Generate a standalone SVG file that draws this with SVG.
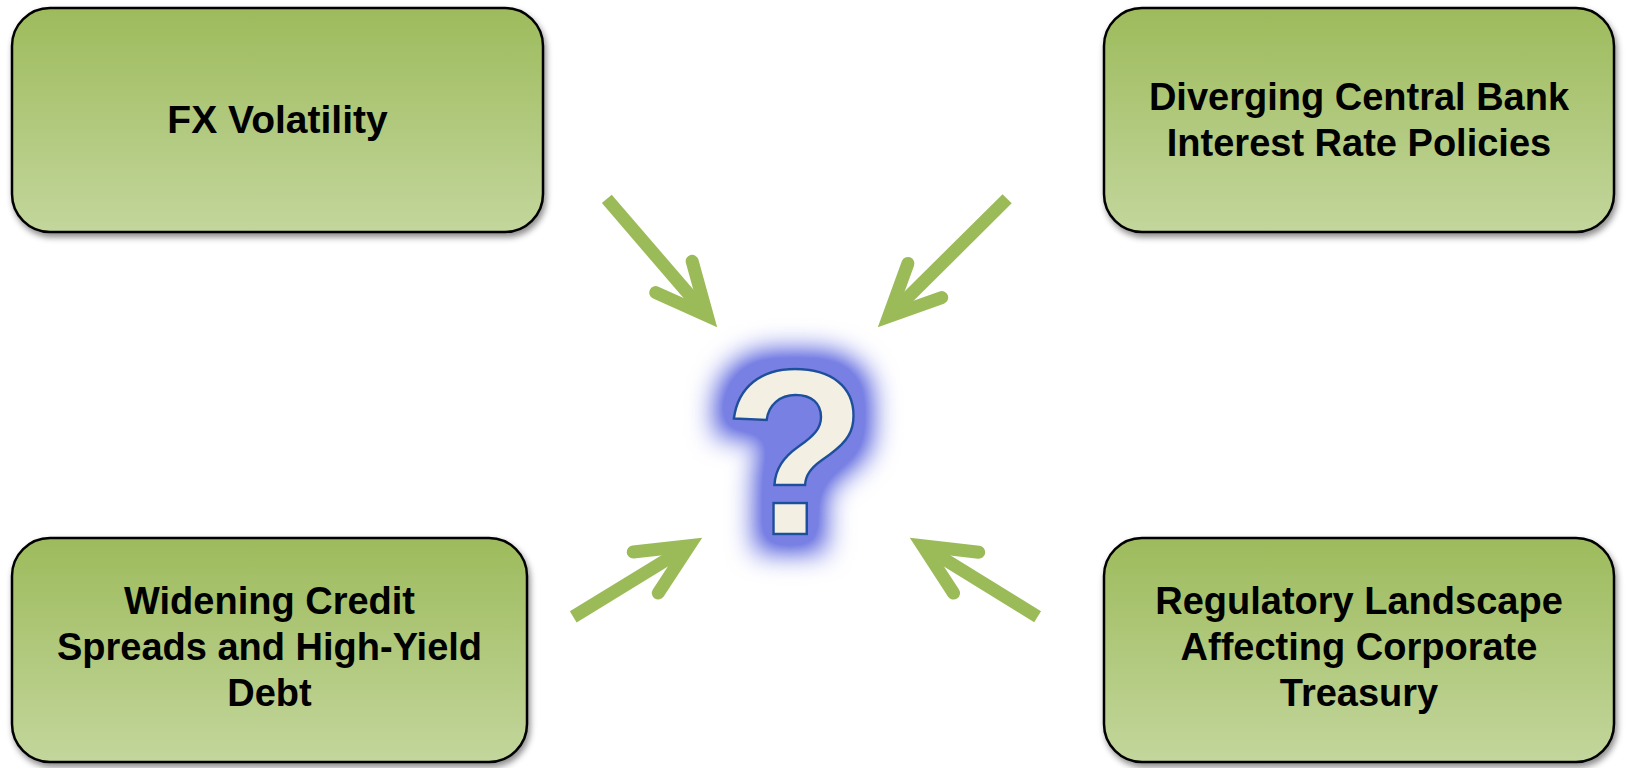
<svg xmlns="http://www.w3.org/2000/svg" width="1627" height="768" viewBox="0 0 1627 768">
<style>
.box{fill:url(#g);stroke:#000;stroke-width:2.5;filter:url(#sh)}
.lbl{font-family:"Liberation Sans",Arial,sans-serif;font-weight:bold;font-size:38px;fill:#000;text-anchor:middle}
.shaft{fill:none;stroke:#9BBB59;stroke-width:13;stroke-linecap:butt}
.head{fill:none;stroke:#9BBB59;stroke-width:13;stroke-linecap:round;stroke-linejoin:miter;stroke-miterlimit:10}
.q{font-family:"Liberation Sans",Arial,sans-serif;font-weight:bold;font-size:236px;fill:#F3F0E3;stroke:#1B4F9C;stroke-width:2.5;text-anchor:middle;filter:url(#glow)}
</style>
<defs>
<linearGradient id="g" x1="0" y1="0" x2="0" y2="1">
<stop offset="0" stop-color="#9DBB5C"/>
<stop offset="1" stop-color="#C3D69C"/>
</linearGradient>
<filter id="sh" x="-5%" y="-5%" width="115%" height="120%">
<feDropShadow dx="2" dy="4" stdDeviation="3" flood-color="#000" flood-opacity="0.45"/>
</filter>
<filter id="glow" x="-80%" y="-50%" width="260%" height="200%">
<feMorphology in="SourceAlpha" operator="dilate" radius="16" result="d"/>
<feGaussianBlur in="d" stdDeviation="14" result="b"/>
<feComponentTransfer in="b" result="b2"><feFuncA type="linear" slope="1.5" intercept="0"/></feComponentTransfer>
<feFlood flood-color="#7880E4" flood-opacity="1"/>
<feComposite in2="b2" operator="in" result="gl"/>
<feMerge><feMergeNode in="gl"/><feMergeNode in="SourceGraphic"/></feMerge>
</filter>
</defs>
<rect width="1627" height="768" fill="#fff"/>
<g id="connectors">
<g transform="translate(717,327) rotate(49.3)"><path class="shaft" d="M -169,0 L -20,0"/><path class="head" d="M -66,-24 L -15,0 L -66,24"/></g>
<g transform="translate(878,327) rotate(135.2)"><path class="shaft" d="M -182,0 L -20,0"/><path class="head" d="M -66,-24 L -15,0 L -66,24"/></g>
<g transform="translate(702,538) rotate(-31.5)"><path class="shaft" d="M -151,0 L -20,0"/><path class="head" d="M -66,-24 L -15,0 L -66,24"/></g>
<g transform="translate(910,538) rotate(211.7)"><path class="shaft" d="M -150,0 L -20,0"/><path class="head" d="M -66,-24 L -15,0 L -66,24"/></g>
</g>
<g id="question">
<text class="q" x="795" y="534">?</text>
</g>
<g id="n1">
<rect class="box" x="12" y="8" width="531" height="224" rx="38"/>
<text class="lbl" x="277.5" y="133" style="font-size:39px">FX Volatility</text>
</g>
<g id="n2">
<rect class="box" x="1104" y="8" width="510" height="224" rx="38"/>
<text class="lbl" x="1359" y="110">Diverging Central Bank</text>
<text class="lbl" x="1359" y="156">Interest Rate Policies</text>
</g>
<g id="n3">
<rect class="box" x="12" y="538" width="515" height="224" rx="38"/>
<text class="lbl" x="269.5" y="614">Widening Credit</text>
<text class="lbl" x="269.5" y="660">Spreads and High-Yield</text>
<text class="lbl" x="269.5" y="706">Debt</text>
</g>
<g id="n4">
<rect class="box" x="1104" y="538" width="510" height="224" rx="38"/>
<text class="lbl" x="1359" y="614">Regulatory Landscape</text>
<text class="lbl" x="1359" y="660">Affecting Corporate</text>
<text class="lbl" x="1359" y="706">Treasury</text>
</g>
</svg>
